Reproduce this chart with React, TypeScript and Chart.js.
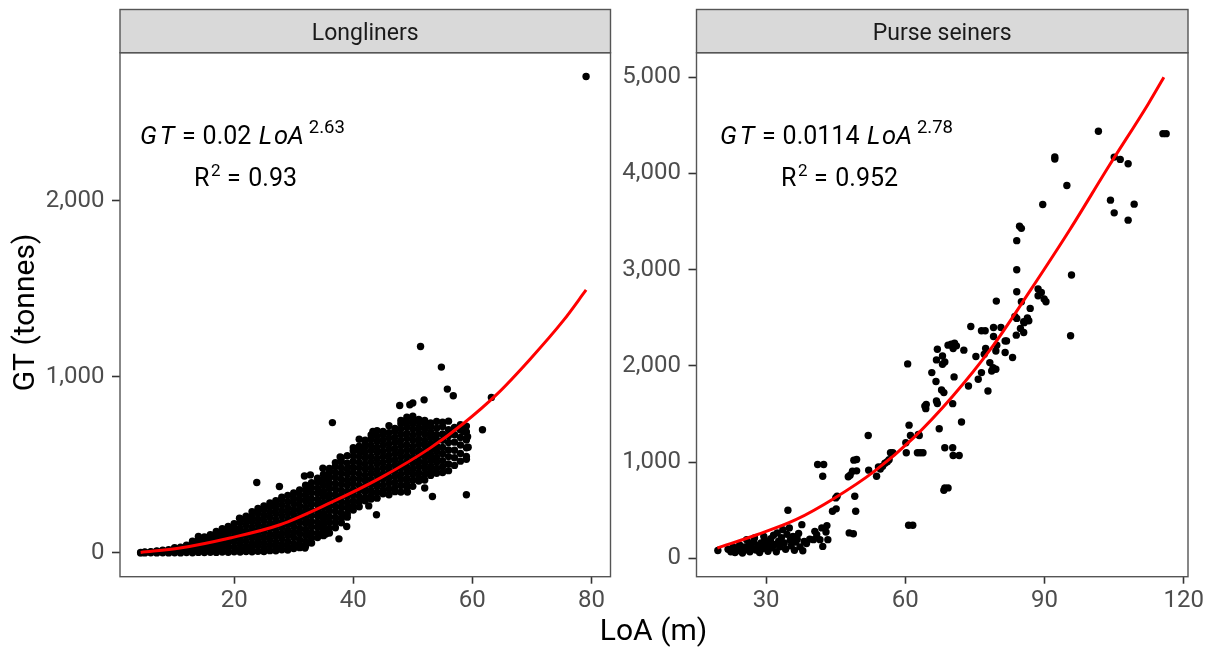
import { useEffect, useRef } from "react";
import { Chart, registerables } from "chart.js";

Chart.register(...registerables);

const W = 1212;
const H = 650;

// ---------- Longliners (LoA in m, GT in tonnes) ----------
// Vessels grouped by length: [LoA, GT values of vessels of that length]
const longlinerColumns: [number, number[]][] = [
  [4.3, [0, 2]],
  [5, [0, 3, 5]],
  [6, [1, 4, 7]],
  [7, [0, 4, 8, 11]],
  [8, [1, 6, 11, 15]],
  [9, [0, 7, 12, 18]],
  [10, [1, 8, 16, 23, 29]],
  [11, [0, 10, 19, 27, 33]],
  [12, [2, 12, 24, 35, 44]],
  [13, [1, 14, 27, 41, 55, 66]],
  [14, [3, 17, 33, 49, 66, 81, 94]],
  [15, [2, 19, 37, 56, 75, 90]],
  [16, [4, 22, 42, 63, 83, 104]],
  [17, [3, 25, 47, 69, 92, 113, 122]],
  [18, [5, 28, 53, 77, 101, 125, 138]],
  [19, [4, 31, 57, 85, 109, 133, 150]],
  [20, [6, 33, 63, 91, 121, 145, 166]],
  [21, [5, 23, 51, 79, 111, 139, 171, 195]],
  [22, [8, 37, 67, 97, 125, 157, 185, 208]],
  [23, [6, 25, 53, 85, 115, 145, 177, 205, 234]],
  [24, [9, 41, 69, 101, 131, 163, 193, 225, 252]],
  [25, [8, 27, 57, 87, 119, 149, 183, 213, 243, 266]],
  [26, [13, 44, 75, 105, 139, 169, 203, 233, 263, 284]],
  [27, [12, 31, 61, 95, 125, 159, 189, 223, 253, 281, 297]],
  [28, [18, 47, 81, 111, 145, 175, 209, 239, 273, 303, 316]],
  [29, [16, 35, 65, 99, 129, 163, 193, 227, 257, 291, 326]],
  [30, [25, 53, 87, 117, 151, 181, 215, 245, 279, 309, 340]],
  [31, [30, 47, 75, 109, 139, 173, 203, 237, 267, 301, 331, 358]],
  [32, [39, 67, 101, 131, 165, 195, 229, 259, 293, 323, 357, 384]],
  [33, [56, 85, 115, 149, 179, 213, 243, 277, 307, 341, 371, 398]],
  [34, [87, 111, 145, 175, 209, 239, 273, 303, 337, 367, 401, 424]],
  [35, [98, 129, 159, 193, 223, 257, 287, 321, 351, 385, 415, 446]],
  [36, [113, 141, 175, 205, 239, 269, 303, 333, 367, 397, 431, 461, 480]],
  [37, [143, 171, 201, 235, 265, 299, 329, 363, 393, 427, 457, 491, 512]],
  [38, [171, 197, 227, 261, 291, 325, 355, 389, 419, 453, 483, 518, 540]],
  [39, [203, 221, 255, 285, 319, 349, 383, 413, 447, 477, 509, 552]],
  [40, [244, 265, 295, 329, 359, 393, 423, 457, 487, 521, 551, 580, 598]],
  [41, [262, 291, 321, 355, 385, 419, 449, 483, 513, 547, 577, 606, 645]],
  [42, [296, 313, 347, 377, 411, 441, 475, 505, 539, 569, 603, 630, 640]],
  [43, [306, 325, 355, 389, 419, 453, 483, 517, 547, 581, 611, 645, 670]],
  [44, [311, 343, 377, 407, 441, 471, 505, 535, 569, 599, 633, 663, 694]],
  [45, [336, 355, 385, 419, 449, 483, 513, 547, 577, 611, 641, 672, 690]],
  [46, [330, 363, 397, 427, 461, 491, 525, 555, 589, 619, 653, 683, 722]],
  [47, [348, 371, 401, 435, 465, 499, 529, 563, 593, 627, 657, 689, 706]],
  [48, [346, 383, 417, 447, 481, 511, 545, 575, 609, 639, 673, 703, 733, 752]],
  [49, [372, 393, 423, 457, 487, 521, 551, 585, 615, 649, 679, 713, 741, 770]],
  [50, [378, 413, 447, 477, 511, 541, 575, 605, 639, 669, 703, 733, 755, 776]],
  [51, [408, 425, 455, 489, 519, 553, 583, 617, 647, 681, 711, 743, 758]],
  [52, [414, 447, 481, 511, 545, 575, 609, 639, 673, 703, 730, 752]],
  [53, [440, 463, 493, 527, 557, 591, 621, 655, 685, 717, 738]],
  [54, [452, 479, 513, 543, 577, 607, 641, 671, 708, 746]],
  [55, [457, 489, 523, 563, 599, 639, 675, 718, 742]],
  [56, [467, 505, 547, 585, 627, 665, 700, 748]],
  [57, [497, 541, 583, 629, 671, 712]],
  [58, [521, 565, 613, 655, 698, 728]],
  [59, [548, 597, 641, 687, 720]],
];

const longlinerOutliers: [number, number][] = [
  [20.9, 197], [23.8, 400], [27.6, 377], [31.8, 437], [32.8, 443], [34.9, 481],
  [36.5, 740], [37.8, 545], [41.1, 585], [41.9, 575], [43.3, 689], [47.8, 837],
  [49.5, 841], [50.0, 851], [51.9, 869], [51.3, 1172], [54.8, 1055], [55.8, 930],
  [56.8, 892], [63.2, 883], [61.7, 699], [59.0, 532], [59.0, 330], [53.3, 320],
  [52.0, 369], [49.1, 346], [43.9, 217], [42.6, 267], [38.9, 150], [37.6, 80],
  [31.9, 28], [35.4, 108], [79.1, 2705], [59.3, 600], [59.2, 660], [58.5, 690],
];

// fitted curve
const longlinerCurve: [number, number][] = [
  [4.3, 3], [10.9, 28], [19.3, 85], [27.7, 160], [36.1, 284], [44.5, 425],
  [52.9, 595], [58.5, 735], [64.1, 900], [69.7, 1100], [75.3, 1320], [79.1, 1493],
];

// ---------- Purse seiners ----------
const purseSeinerPoints: [number, number][] = [
  [19.6, 83], [21.8, 95], [22.4, 70], [22.9, 118], [23.3, 62], [23.8, 100], [24.3, 140],
  [24.5, 78], [24.9, 55], [25.4, 120], [25.8, 195], [25.9, 90], [26.3, 150], [26.5, 68],
  [26.9, 112], [27.3, 175], [27.5, 212], [27.8, 88], [28.2, 135], [28.6, 62], [28.9, 160],
  [29.2, 100], [29.5, 229], [29.7, 190], [30.1, 130], [30.4, 75], [30.7, 160], [31.0, 205],
  [31.3, 110], [31.6, 240], [31.9, 145], [32.2, 70], [32.4, 265], [32.7, 180], [33.0, 120],
  [33.3, 215], [33.6, 299], [33.9, 160], [34.2, 95], [34.5, 250], [34.7, 500], [35.0, 317],
  [35.2, 190], [35.4, 130], [35.8, 229], [36.1, 85], [36.4, 170], [36.7, 200], [37.0, 260],
  [37.3, 120], [37.7, 351], [37.9, 80], [38.2, 175], [38.7, 155], [39.4, 200], [40.2, 195],
  [40.5, 281], [40.9, 247], [41.6, 195], [42.0, 317], [42.2, 125], [43.1, 341], [43.3, 195],
  [42.9, 275], [41.1, 976], [42.4, 976], [42.2, 854], [44.3, 490], [45.1, 515], [45.0, 629],
  [45.3, 646], [47.7, 848], [48.1, 865], [47.9, 265], [48.8, 257], [48.6, 906], [49.5, 910],
  [48.9, 1021], [49.5, 1028], [49.1, 646], [49.3, 490], [52.0, 1278], [52.1, 917], [53.8, 854],
  [54.2, 950], [54.6, 928], [55.1, 958], [55.6, 990], [56.1, 1005], [56.5, 1025], [56.8, 1098],
  [57.3, 1098], [60.2, 1098], [60.1, 1202], [60.5, 2021], [60.8, 1385], [61.1, 1278],
  [60.7, 344], [61.6, 344], [62.8, 1289], [63.0, 1278], [62.6, 1098], [63.2, 1098],
  [63.8, 1098], [64.2, 1583], [64.4, 1556], [64.5, 1600], [65.7, 1931], [66.6, 1838],
  [66.7, 1635], [66.9, 1610], [66.9, 2174], [66.7, 2063], [67.8, 1750], [68.3, 1723],
  [68.0, 2104], [68.5, 2042], [68.0, 2018], [67.3, 1348], [68.5, 1150], [70.2, 1150],
  [70.3, 1070], [71.6, 1070], [68.5, 733], [69.2, 733], [68.3, 708], [69.2, 2216],
  [69.9, 2226], [70.6, 2237], [71.0, 2209], [70.3, 2181], [72.6, 2164], [70.2, 1608],
  [70.5, 1886], [72.1, 1417], [73.6, 1792], [74.1, 2410], [75.2, 2098], [75.7, 1862],
  [76.4, 1931], [76.4, 2365], [77.3, 2181], [77.0, 2122], [77.8, 1740], [78.2, 2035],
  [78.9, 1983], [79.5, 1966], [78.6, 1948], [79.7, 2216], [79.5, 2156], [81.5, 2140],
  [83.1, 2088], [79.0, 2400], [80.6, 2400], [79.0, 2306], [81.5, 2260], [83.9, 2320],
  [85.5, 2348], [83.6, 2514], [84.0, 2494], [85.5, 2459], [86.6, 2469], [86.9, 2598],
  [88.6, 2799], [89.3, 2764], [88.6, 2730], [89.9, 2695], [90.3, 2667], [85.0, 2667],
  [79.6, 2674], [84.0, 2771], [84.0, 3000], [84.0, 3302], [84.6, 3452], [85.0, 3430],
  [89.6, 3677], [92.2, 4171], [92.2, 4150], [94.8, 3875], [95.8, 2945], [95.6, 2313],
  [101.6, 4438], [104.2, 3723], [105.0, 3591], [105.0, 4170], [106.3, 4146], [108.0, 4101],
  [108.0, 3515], [109.3, 3681], [115.5, 4414], [116.2, 4414], [77.2, 2365], [81.8, 2260],
  [84.8, 2390], [85.6, 2450], [86.3, 2500],
];

const purseSeinerCurve: [number, number][] = [
  [19.5, 108], [28.0, 246], [36.4, 402], [44.8, 628], [53.3, 904], [61.7, 1250],
  [70.1, 1680], [78.6, 2190], [87.0, 2790], [95.5, 3420], [103.9, 4080],
  [112.3, 4720], [115.7, 5000],
];

// ---------- axes / labels ----------
const longlinerXTicks = [20, 40, 60, 80];
const longlinerYTicks = [0, 1000, 2000];
const purseXTicks = [30, 60, 90, 120];
const purseYTicks = [0, 1000, 2000, 3000, 4000, 5000];
const panelTitles = ["Longliners", "Purse seiners"];
const longlinerFit = { coef: "0.02", exp: "2.63", r2: "0.93" };
const purseFit = { coef: "0.0114", exp: "2.78", r2: "0.952" };
const xAxisTitle = "LoA (m)";
const yAxisTitle = "GT (tonnes)";

const FONT = "Roboto, 'Noto Sans', sans-serif";

function drawEquation(ctx: CanvasRenderingContext2D, x0: number, fit: { coef: string; exp: string; r2: string }) {
  const b1 = 144;
  const b2 = 185.5;
  const it = `italic 25.5px ${FONT}`;
  const rm = `25px ${FONT}`;
  ctx.fillStyle = "#000000";
  ctx.textAlign = "left";
  ctx.textBaseline = "alphabetic";
  ctx.font = it;
  ctx.fillText("G", x0, b1);
  ctx.fillText("T", x0 + 19.7, b1);
  ctx.font = rm;
  ctx.fillText("=", x0 + 42, b1);
  const cx = x0 + 62.6;
  ctx.fillText(fit.coef, cx, b1);
  const lx = cx + ctx.measureText(fit.coef).width + 7.5;
  ctx.font = it;
  ctx.fillText("L", lx, b1);
  ctx.fillText("o", lx + 15.1, b1);
  ctx.fillText("A", lx + 29, b1);
  ctx.font = `18.5px ${FONT}`;
  ctx.fillText(fit.exp, lx + 50, 132.7);
  const end1 = lx + 50 + ctx.measureText(fit.exp).width;
  ctx.font = rm;
  const vw = ctx.measureText(fit.r2).width;
  const w2 = 54.4 + vw;
  const rx = (x0 + end1) / 2 - w2 / 2 + 3;
  ctx.fillText("R", rx, b2);
  ctx.fillText("=", rx + 33, b2);
  ctx.fillText(fit.r2, rx + 54.4, b2);
  ctx.font = `17px ${FONT}`;
  ctx.fillText("2", rx + 17.1, 176);
}

const panelPlugin = {
  id: "panelDecor",
  afterDraw(chart: any, _args: any, opts: any) {
    const ctx: CanvasRenderingContext2D = chart.ctx;
    const a = chart.chartArea;
    ctx.save();
    // strip
    const stripTop = 9.5;
    ctx.fillStyle = "#d9d9d9";
    ctx.fillRect(a.left, stripTop, a.right - a.left, a.top - stripTop);
    ctx.strokeStyle = "#555555";
    ctx.lineWidth = 1.4;
    ctx.strokeRect(a.left, stripTop, a.right - a.left, a.top - stripTop);
    // panel border
    ctx.strokeRect(a.left, a.top, a.right - a.left, a.bottom - a.top);
    // strip text
    ctx.fillStyle = "#1a1a1a";
    ctx.font = `23px ${FONT}`;
    ctx.textAlign = "center";
    ctx.textBaseline = "alphabetic";
    ctx.fillText(opts.title, (a.left + a.right) / 2, 39.5);
    // equation
    drawEquation(ctx, a.left + opts.eqOffset, opts.fit);
    // shared axis titles
    if (opts.axisTitles) {
      ctx.fillStyle = "#000000";
      ctx.font = `30px ${FONT}`;
      ctx.textAlign = "center";
      ctx.fillText(xAxisTitle, 653.5, 640);
      ctx.translate(34, 312.5);
      ctx.rotate(-Math.PI / 2);
      ctx.fillText(yAxisTitle, 0, 0);
    }
    ctx.restore();
  },
};

type Panel = {
  points: [number, number][];
  curve: [number, number][];
  xMin: number;
  xMax: number;
  yMin: number;
  yMax: number;
  xTicks: number[];
  yTicks: number[];
  padLeft: number;
  yAxisWidth: number;
  padRight: number;
  title: string;
  fit: { coef: string; exp: string; r2: string };
  eqOffset: number;
  axisTitles: boolean;
};

function buildConfig(p: Panel): any {
  const tickFont = { family: FONT, size: 24 };
  const fmt = (v: any) => Number(v).toLocaleString("en-US");
  return {
    type: "scatter",
    data: {
      datasets: [
        {
          type: "line",
          data: p.curve.map(([x, y]) => ({ x, y })),
          borderColor: "#ff0000",
          borderWidth: 3,
          pointRadius: 0,
          fill: false,
          cubicInterpolationMode: "monotone",
          order: 0,
        },
        {
          type: "scatter",
          data: p.points.map(([x, y]) => ({ x, y })),
          backgroundColor: "#000000",
          borderWidth: 0,
          pointRadius: 3.7,
          order: 1,
        },
      ],
    },
    options: {
      animation: false,
      responsive: false,
      devicePixelRatio: 1,
      events: [],
      layout: { padding: { left: p.padLeft, right: p.padRight, top: 52.7, bottom: 0 } },
      plugins: {
        legend: { display: false },
        tooltip: { enabled: false },
        panelDecor: { title: p.title, fit: p.fit, eqOffset: p.eqOffset, axisTitles: p.axisTitles },
      },
      scales: {
        x: {
          type: "linear",
          min: p.xMin,
          max: p.xMax,
          afterBuildTicks: (s: any) => {
            s.ticks = p.xTicks.map((v) => ({ value: v }));
          },
          afterFit: (s: any) => {
            s.height = 73.3;
          },
          border: { display: false },
          grid: { drawOnChartArea: false, drawTicks: true, tickLength: 7, tickWidth: 1.6, tickColor: "#333333" },
          ticks: { font: tickFont, color: "#4d4d4d", padding: 3, maxRotation: 0, autoSkip: false, callback: fmt },
        },
        y: {
          type: "linear",
          min: p.yMin,
          max: p.yMax,
          afterBuildTicks: (s: any) => {
            s.ticks = p.yTicks.map((v) => ({ value: v }));
          },
          afterFit: (s: any) => {
            s.width = p.yAxisWidth;
          },
          border: { display: false },
          grid: { drawOnChartArea: false, drawTicks: true, tickLength: 8, tickWidth: 1.6, tickColor: "#333333" },
          ticks: { font: tickFont, color: "#4d4d4d", padding: 7.5, autoSkip: false, callback: fmt },
        },
      },
    },
    plugins: [panelPlugin],
  };
}

export default function App() {
  const leftRef = useRef<HTMLCanvasElement>(null);
  const rightRef = useRef<HTMLCanvasElement>(null);

  useEffect(() => {
    const longPoints: [number, number][] = [];
    longlinerColumns.forEach(([x, ys]) => ys.forEach((y) => longPoints.push([x, y])));
    longlinerOutliers.forEach((pt) => longPoints.push(pt));

    const c1 = new Chart(
      leftRef.current!,
      buildConfig({
        points: longPoints,
        curve: longlinerCurve,
        xMin: 0.83,
        xMax: 83.2,
        yMin: -135,
        yMax: 2840,
        xTicks: longlinerXTicks,
        yTicks: longlinerYTicks,
        padLeft: 0,
        yAxisWidth: 120,
        padRight: W - 610.5,
        title: panelTitles[0],
        fit: longlinerFit,
        eqOffset: 20,
        axisTitles: true,
      })
    );
    const c2 = new Chart(
      rightRef.current!,
      buildConfig({
        points: purseSeinerPoints,
        curve: purseSeinerCurve,
        xMin: 15.0,
        xMax: 120.9,
        yMin: -190,
        yMax: 5255,
        xTicks: purseXTicks,
        yTicks: purseYTicks,
        padLeft: 620,
        yAxisWidth: 76.5,
        padRight: W - 1188,
        title: panelTitles[1],
        fit: purseFit,
        eqOffset: 23.5,
        axisTitles: false,
      })
    );
    return () => {
      c1.destroy();
      c2.destroy();
    };
  }, []);

  return (
    <div style={{ position: "absolute", left: 0, top: 0, width: W, height: H, background: "#ffffff" }}>
      <canvas ref={leftRef} width={W} height={H} style={{ position: "absolute", left: 0, top: 0 }} />
      <canvas ref={rightRef} width={W} height={H} style={{ position: "absolute", left: 0, top: 0 }} />
    </div>
  );
}
